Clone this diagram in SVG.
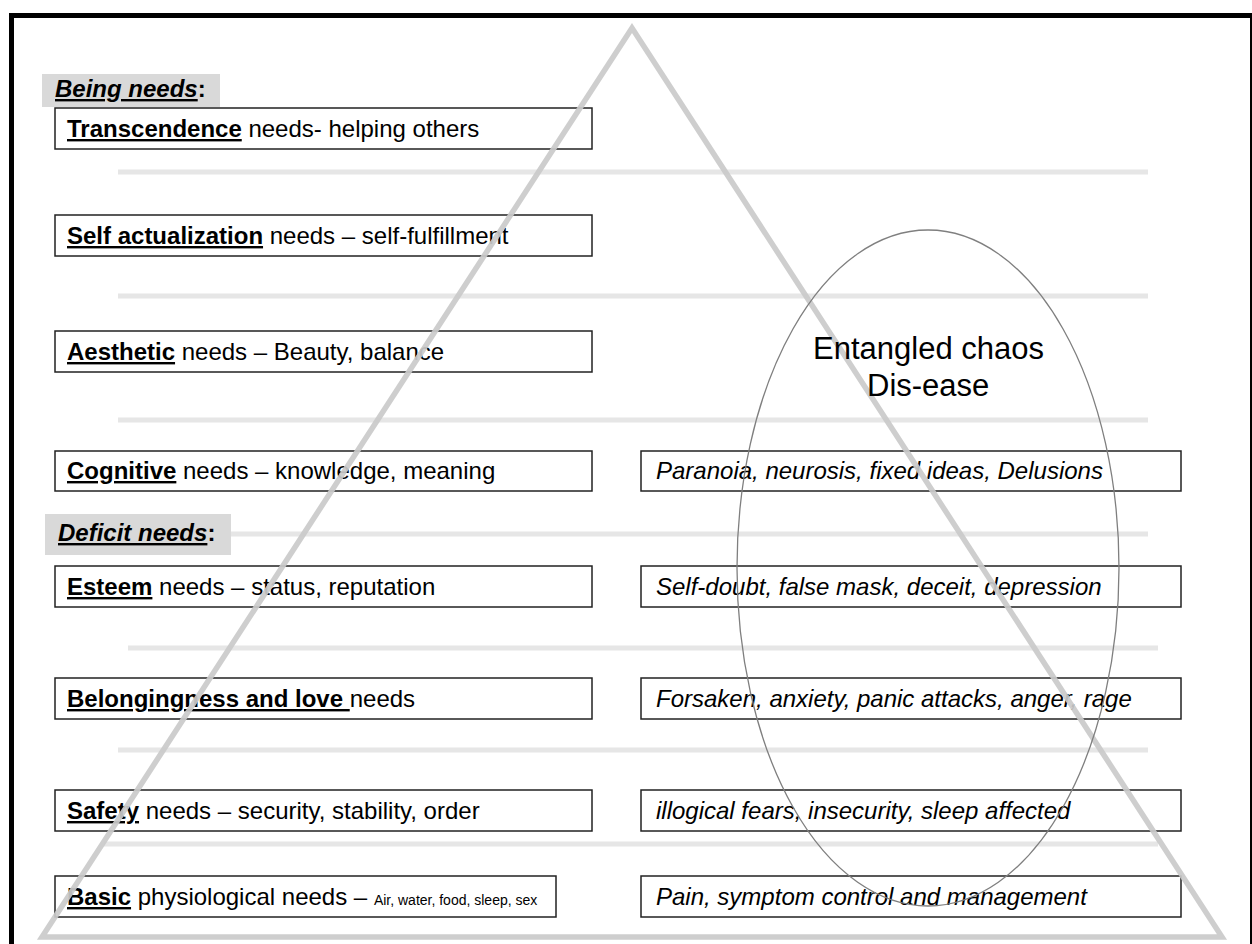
<svg xmlns="http://www.w3.org/2000/svg" width="1252" height="944" viewBox="0 0 1252 944">
<style>
.t{font-family:"Liberation Sans",Arial,sans-serif;font-size:24px;fill:#000}
.b{font-weight:bold;text-decoration:underline}
.i{font-style:italic}
.box{fill:#fff;stroke:#222;stroke-width:1.5}
.band{stroke:#e6e6e6;stroke-width:5;fill:none}
.lbl{fill:#d9d9d9}
</style>
<rect x="0" y="0" width="1252" height="944" fill="#fff"/>
<g id="bands">
<line class="band" x1="118" y1="172" x2="1148" y2="172"/>
<line class="band" x1="118" y1="296" x2="1148" y2="296"/>
<line class="band" x1="118" y1="420" x2="1148" y2="420"/>
<line class="band" x1="118" y1="534" x2="1148" y2="534"/>
<line class="band" x1="128" y1="648" x2="1158" y2="648"/>
<line class="band" x1="118" y1="750" x2="1148" y2="750"/>
<line class="band" x1="104" y1="844" x2="1158" y2="844"/>
</g>
<g id="left-boxes">
<g id="transcendence"><rect class="box" x="55" y="108" width="537" height="41"/><text class="t" x="67" y="137"><tspan class="b">Transcendence</tspan> needs- helping others</text></g>
<g id="self-actualization"><rect class="box" x="55" y="215" width="537" height="41"/><text class="t" x="67" y="244"><tspan class="b">Self actualization</tspan> needs – self-fulfillment</text></g>
<g id="aesthetic"><rect class="box" x="55" y="331" width="537" height="41"/><text class="t" x="67" y="360"><tspan class="b">Aesthetic</tspan> needs – Beauty, balance</text></g>
<g id="cognitive"><rect class="box" x="55" y="451" width="537" height="40"/><text class="t" x="67" y="479"><tspan class="b">Cognitive</tspan> needs – knowledge, meaning</text></g>
<g id="esteem"><rect class="box" x="55" y="566" width="537" height="41"/><text class="t" x="67" y="595"><tspan class="b">Esteem</tspan> needs – status, reputation</text></g>
<g id="belongingness"><rect class="box" x="55" y="678" width="537" height="41"/><text class="t" x="67" y="707"><tspan class="b">Belongingness and love </tspan>needs</text></g>
<g id="safety"><rect class="box" x="55" y="790" width="537" height="41"/><text class="t" x="67" y="819"><tspan class="b">Safety</tspan> needs – security, stability, order</text></g>
<g id="basic"><rect class="box" x="55" y="876" width="501" height="41"/><text class="t" x="67" y="905"><tspan class="b">Basic</tspan> physiological needs – <tspan font-size="14">Air, water, food, sleep, sex</tspan></text></g>
</g>
<g id="right-boxes">
<g id="paranoia"><rect class="box" x="641" y="451" width="540" height="40"/><text class="t i" x="656" y="479">Paranoia, neurosis, fixed ideas, Delusions</text></g>
<g id="self-doubt"><rect class="box" x="641" y="566" width="540" height="41"/><text class="t i" x="656" y="595">Self-doubt, false mask, deceit, depression</text></g>
<g id="forsaken"><rect class="box" x="641" y="678" width="540" height="41"/><text class="t i" x="656" y="707">Forsaken, anxiety, panic attacks, anger, rage</text></g>
<g id="fears"><rect class="box" x="641" y="790" width="540" height="41"/><text class="t i" x="656" y="819">illogical fears, insecurity, sleep affected</text></g>
<g id="pain"><rect class="box" x="641" y="876" width="540" height="41"/><text class="t i" x="656" y="905">Pain, symptom control and management</text></g>
</g>
<g id="pyramid">
<polygon points="632,28 42,937 1222,937" fill="none" stroke="#cacaca" stroke-width="5.5" stroke-linejoin="miter" opacity="0.92"/>
</g>
<g id="being-label"><rect class="lbl" x="42" y="74" width="178" height="33"/><text class="t" x="55" y="97"><tspan class="b i">Being needs</tspan><tspan font-weight="bold">:</tspan></text></g>
<g id="deficit-label"><rect class="lbl" x="45" y="514" width="186" height="41"/><text class="t" x="58" y="541"><tspan class="b i">Deficit needs</tspan><tspan font-weight="bold">:</tspan></text></g>
<g id="chaos">
<ellipse cx="928" cy="568" rx="191" ry="338" fill="none" stroke="#7f7f7f" stroke-width="1.3"/>
<text class="t" x="813" y="359" style="font-size:31px">Entangled chaos</text>
<text class="t" x="867" y="396" style="font-size:31px">Dis-ease</text>
</g>
<g id="connectors"></g>
<rect x="11.5" y="15.5" width="1241" height="940" fill="none" stroke="#000" stroke-width="5"/>
</svg>
